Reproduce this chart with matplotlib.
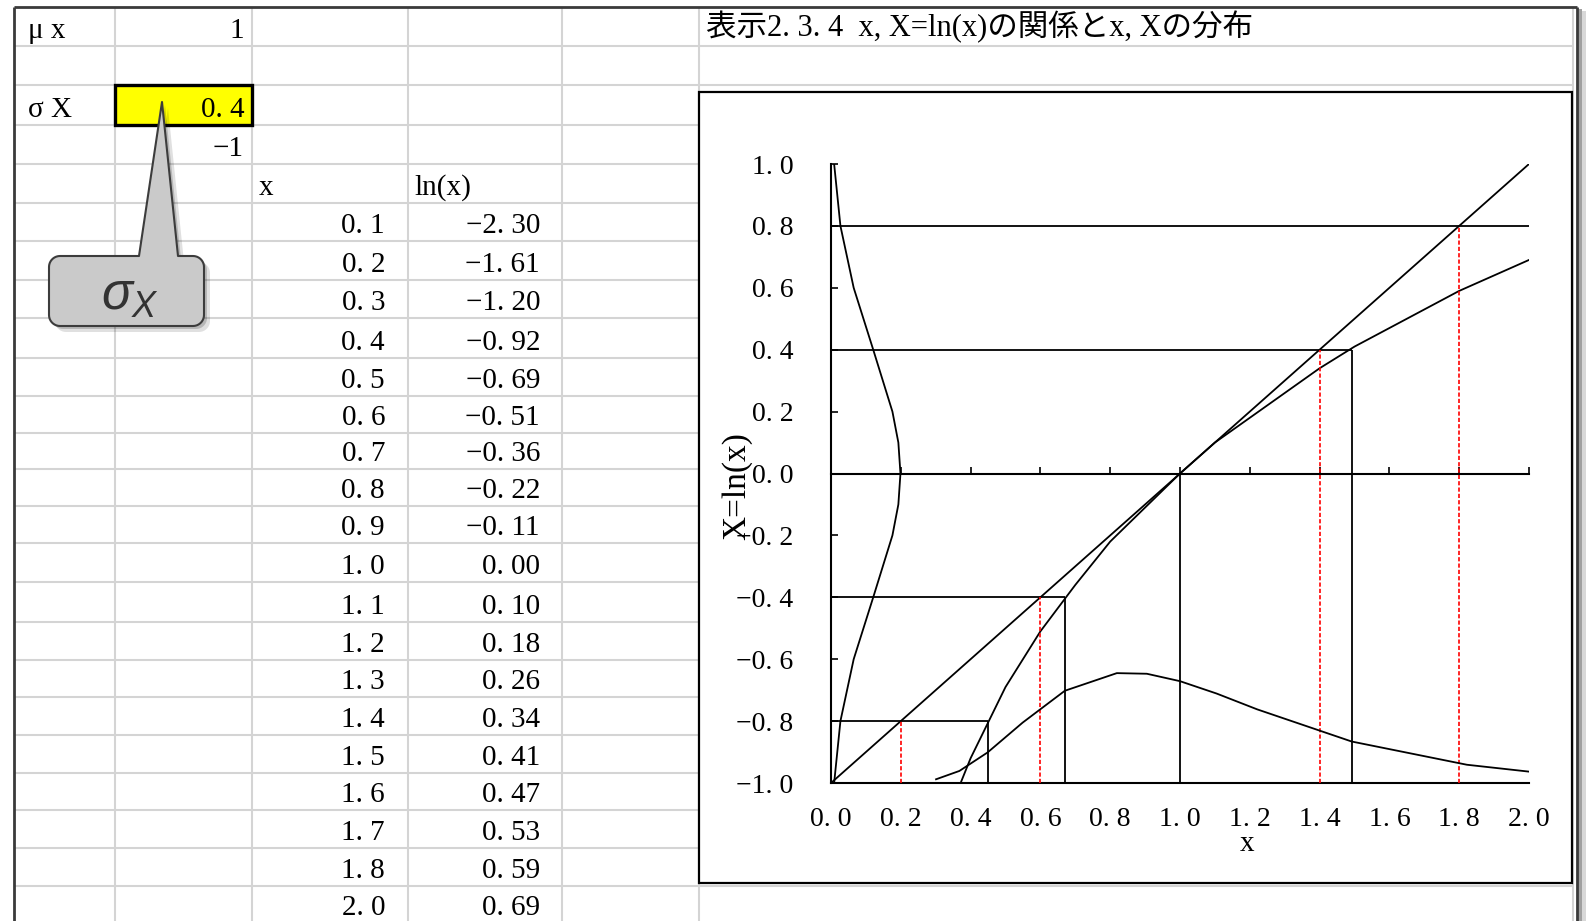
import numpy as np
import matplotlib
matplotlib.use("Agg")
import matplotlib.pyplot as plt
from matplotlib.patches import Rectangle, Polygon
from matplotlib.ticker import FuncFormatter

plt.rcParams['font.family'] = ['Liberation Serif', 'Noto Sans CJK JP', 'DejaVu Sans']
plt.rcParams['mathtext.fontset'] = 'custom'
plt.rcParams['mathtext.it'] = 'Liberation Sans:italic'
plt.rcParams['mathtext.rm'] = 'Liberation Sans'

W, H = 1588, 921

# ---- sheet values ----
mu_x = 1
sigma_x = 0.4
lower_X = -1
x_vals = [0.1, 0.2, 0.3, 0.4, 0.5, 0.6, 0.7, 0.8, 0.9, 1.0,
          1.1, 1.2, 1.3, 1.4, 1.5, 1.6, 1.7, 1.8, 2.0]
ln_vals = [-2.30, -1.61, -1.20, -0.92, -0.69, -0.51, -0.36, -0.22, -0.11, 0.00,
           0.10, 0.18, 0.26, 0.34, 0.41, 0.47, 0.53, 0.59, 0.69]

# ---- chart series ----
# straight line X = x - 1
diag_x = [0.0, 2.0]
diag_y = [-1.0, 1.0]
# X levels and the x where ln(x) reaches them
levels_X = [-0.8, -0.4, 0.0, 0.4, 0.8]
levels_x = [0.449, 0.670, 1.0, 1.492, 2.226]
# red dashed drops from the straight line
drop_x = [0.2, 0.6, 1.4, 1.8]
drop_X = [-0.8, -0.4, 0.4, 0.8]
# distribution of X, drawn against the vertical axis
densX_y = [-1.0, -0.8, -0.6, -0.4, -0.2, -0.1, 0.0, 0.1, 0.2, 0.4, 0.6, 0.8, 1.0]
densX_x = [0.009, 0.027, 0.065, 0.121, 0.176, 0.193, 0.199, 0.193, 0.176, 0.121, 0.065, 0.027, 0.009]
# distribution of x, drawn above the bottom line
densx_x = [0.301, 0.368, 0.449, 0.549, 0.670, 0.819, 0.905, 1.0, 1.105, 1.221, 1.492, 1.822, 2.014]
densx_y = [-0.988, -0.961, -0.901, -0.805, -0.702, -0.645, -0.647, -0.671, -0.711, -0.762, -0.866, -0.941, -0.965]

yticks = [-1.0, -0.8, -0.6, -0.4, -0.2, 0.0, 0.2, 0.4, 0.6, 0.8, 1.0]
xticks = [0.0, 0.2, 0.4, 0.6, 0.8, 1.0, 1.2, 1.4, 1.6, 1.8, 2.0]

# sheet grid (pixels)
rows = [7, 46, 85, 125, 164, 203, 241, 280, 318, 358, 396, 433, 469, 506, 543,
        582, 622, 660, 697, 735, 773, 810, 848, 886]
cols = [14, 115, 252, 408, 562, 699, 1573]


def fmt(v, nd):
    s = f"{v:.{nd}f}".replace('.', '. ')
    return s.replace('-', '\u2212')


fig = plt.figure(figsize=(W / 100, H / 100), dpi=100)
bg = fig.add_axes([0, 0, 1, 1])
bg.set_xlim(0, W)
bg.set_ylim(H, 0)
bg.axis('off')

grid_c = '#d4d4d4'
bg.hlines(rows[1:], cols[0], cols[-1], color=grid_c, lw=1.5, zorder=1)
bg.vlines(cols[1:], rows[0], H, color=grid_c, lw=1.5, zorder=1)

# window border + shadow
for xs, ys in [([14, 1577], [7, 7]), ([14, 14], [7, H]), ([1577, 1577], [7, H])]:
    bg.plot(xs, ys, color='#3a3a3a', lw=2, zorder=5, solid_capstyle='butt')
bg.add_patch(Rectangle((1578, 9), 4, H, color='#a0a0a0', zorder=4, lw=0))
bg.add_patch(Rectangle((1582, 11), 4, H, color='#d8d8d8', zorder=4, lw=0))

# highlighted cell
bg.add_patch(Rectangle((cols[1], rows[2]), cols[2] - cols[1], rows[3] - rows[2],
                       facecolor='#ffff00', edgecolor='black', lw=2.4, zorder=3))

fs = 21
off = 8
bg.text(28, rows[1] - off, "\u03bc x", fontsize=fs, va='baseline', ha='left', zorder=6)
bg.text(244, rows[1] - off, f"{mu_x}", fontsize=fs, va='baseline', ha='right', zorder=6)
bg.text(28, rows[3] - off, "\u03c3 X", fontsize=fs, va='baseline', ha='left', zorder=6)
bg.text(245, rows[3] - off, fmt(sigma_x, 1), fontsize=fs, va='baseline', ha='right', zorder=6)
bg.text(244, rows[4] - off, fmt(lower_X, 0), fontsize=fs, va='baseline', ha='right', zorder=6)
bg.text(259, rows[5] - off, "x", fontsize=fs, va='baseline', ha='left', zorder=6)
bg.text(414, rows[5] - off, "ln(x)", fontsize=fs, va='baseline', ha='left', zorder=6)
for i, (xv, lv) in enumerate(zip(x_vals, ln_vals)):
    base = rows[6 + i] - off if 6 + i < len(rows) else rows[-1] + 29
    bg.text(385, base, fmt(xv, 1), fontsize=fs, va='baseline', ha='right', zorder=6)
    bg.text(540, base, fmt(lv, 2), fontsize=fs, va='baseline', ha='right', zorder=6)

bg.text(706, 36, "表示2. 3. 4  x, X=ln(x)の関係とx, Xの分布", fontsize=22,
        va='baseline', ha='left', zorder=6)

# chart frame
bg.add_patch(Rectangle((699, 92), 1572 - 699, 883 - 92, facecolor='white',
                       edgecolor='black', lw=1.6, zorder=7))


# callout
def rounded_callout(L, R, T, B, r, bl, br, tip):
    pts = [(L + r, T), (bl, T), tip, (br, T), (R - r, T)]
    for cx, cy, a0, a1 in [(R - r, T + r, -90, 0), (R - r, B - r, 0, 90),
                           (L + r, B - r, 90, 180), (L + r, T + r, 180, 270)]:
        a = np.radians(np.linspace(a0, a1, 10))
        pts += list(zip(cx + r * np.cos(a), cy + r * np.sin(a)))
    return np.array(pts)


cp = rounded_callout(49, 204, 256, 326, 11, 139, 178, (162, 102))
bg.add_patch(Polygon(cp + [6, 6], closed=True, facecolor='#000000', alpha=0.12, lw=0, zorder=8))
bg.add_patch(Polygon(cp + [3, 3], closed=True, facecolor='#000000', alpha=0.18, lw=0, zorder=8))
bg.add_patch(Polygon(cp, closed=True, facecolor='#cacaca', edgecolor='#3c3c3c', lw=1.5,
                     zorder=9, joinstyle='round'))
bg.text(101, 310, r"$\sigma_X$", fontsize=37, color='#333333',
        va='baseline', ha='left', zorder=10)

# ---- chart ----
ax = fig.add_axes([831 / W, (H - 783) / H, 698 / W, 619 / H])
ax.set_zorder(20)
ax.patch.set_alpha(0)
ax.set_xlim(0, 2)
ax.set_ylim(-1, 1)

lw = 1.3
ax.plot(x_vals, ln_vals, color='black', lw=lw)
ax.plot(diag_x, diag_y, color='black', lw=lw)
ax.hlines(levels_X, 0, levels_x, color='black', lw=lw)
ax.vlines(levels_x, -1, levels_X, color='black', lw=lw)
ax.vlines(drop_x, -1, drop_X, color='red', lw=1.2, linestyles=(0, (2.5, 1.3)))
ax.plot(densX_x, densX_y, color='black', lw=lw)
ax.plot(densx_x, densx_y, color='black', lw=lw)

ax.spines['top'].set_visible(False)
ax.spines['right'].set_visible(False)
ax.spines['bottom'].set_position(('data', 0))
for s in ('left', 'bottom'):
    ax.spines[s].set_linewidth(1.5)
ax.set_xticks(xticks)
ax.set_yticks(yticks)
ax.tick_params(axis='x', direction='in', length=5, width=1.2, labelbottom=False)
ax.tick_params(axis='y', direction='in', length=5, width=1.2, pad=27, labelsize=20)
ax.yaxis.set_major_formatter(FuncFormatter(lambda v, p: fmt(v, 1)))

sec = ax.secondary_xaxis('bottom')
sec.set_xticks(xticks)
sec.xaxis.set_major_formatter(FuncFormatter(lambda v, p: fmt(v, 1)))
sec.tick_params(length=0, pad=17, labelsize=20)
sec.spines['bottom'].set_linewidth(1.5)

ax.text(-0.135, 0.48, "X=ln(x)", transform=ax.transAxes, rotation=90, fontsize=24,
        ha='center', va='center')
ax.text(0.596, -0.099, "x", transform=ax.transAxes, fontsize=21, ha='center', va='center')

fig.savefig("out.png", dpi=100)
